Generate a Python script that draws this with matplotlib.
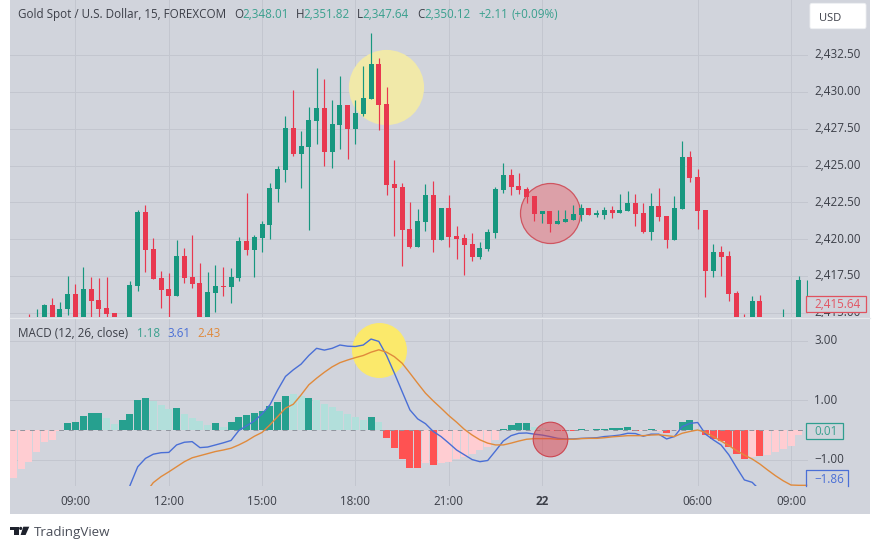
import matplotlib
matplotlib.use("Agg")
import matplotlib.pyplot as plt
from matplotlib.lines import Line2D
from matplotlib.patches import FancyBboxPatch, Polygon, Rectangle, Circle
from matplotlib.transforms import Affine2D, Bbox

plt.rcParams["font.family"] = ["Open Sans", "DejaVu Sans"]

# Candles, first bar sits six bars before the 09:00 tick
first_bar = -6
opens = [2414.6, 2414.2, 2414.3, 2415.54, 2414.4, 2415.3, 2416.29, 2414.5, 2416.63, 2415.88, 2415.34, 2415.0, 2414.3,
         2414.0, 2416.83, 2421.85, 2419.32, 2417.35, 2416.63, 2416.15, 2418.86, 2417.44, 2417.03, 2414.4, 2416.36,
         2416.83, 2416.76, 2417.37, 2419.88, 2419.27, 2420.08, 2420.97, 2423.41, 2424.7, 2427.54, 2425.78, 2426.25,
         2428.01, 2428.89, 2425.91, 2427.74, 2429.1, 2427.47, 2428.49, 2429.5, 2431.88, 2429.17, 2423.74, 2423.54,
         2420.69, 2419.47, 2421.17, 2423.0, 2419.95, 2422.11, 2420.22, 2420.08, 2419.67, 2418.79, 2419.33, 2420.42,
         2423.33, 2424.35, 2423.6, 2423.4, 2422.93, 2421.71, 2421.91, 2421.03, 2421.17, 2421.3, 2421.64, 2422.12,
         2421.64, 2421.64, 2421.98, 2421.78, 2421.92, 2422.46, 2421.78, 2420.49, 2422.25, 2421.58, 2419.95, 2422.05,
         2425.58, 2424.22, 2421.98, 2417.85, 2419.14, 2418.86, 2416.36, 2414.2, 2413.6, 2415.81, 2413.8, 2413.4,
         2413.6, 2414.0, 2413.9, 2417.24]
highs = [2414.9, 2415.3, 2415.6, 2416.04, 2415.77, 2417.51, 2416.97, 2418.14, 2417.46, 2417.35, 2417.46, 2415.0, 2414.5,
         2417.17, 2421.98, 2422.3, 2420.08, 2417.85, 2417.69, 2419.95, 2419.41, 2420.3, 2418.39, 2417.78, 2418.25,
         2418.12, 2418.05, 2420.15, 2423.11, 2420.29, 2421.24, 2423.81, 2424.97, 2428.36, 2430.12, 2427.33, 2428.96,
         2431.6, 2430.86, 2429.44, 2431.06, 2429.1, 2429.44, 2431.74, 2433.98, 2432.28, 2430.32, 2425.37, 2423.81,
         2422.52, 2422.05, 2423.74, 2423.94, 2422.11, 2423.0, 2420.9, 2420.35, 2420.42, 2419.81, 2420.69, 2423.54,
         2425.16, 2424.76, 2424.49, 2423.54, 2422.93, 2421.91, 2421.91, 2421.98, 2421.98, 2422.32, 2422.39, 2422.12,
         2421.98, 2422.19, 2422.25, 2423.07, 2423.27, 2423.07, 2422.46, 2423.14, 2423.47, 2421.58, 2422.93, 2426.66,
         2425.98, 2424.76, 2421.98, 2419.68, 2419.54, 2419.2, 2416.49, 2414.93, 2416.15, 2416.22, 2414.2, 2414.0,
         2415.27, 2414.4, 2417.51, 2417.24]
lows = [2413.8, 2413.9, 2413.9, 2414.0, 2414.0, 2414.89, 2414.2, 2414.2, 2414.7, 2414.7, 2414.7, 2414.0, 2413.5,
        2413.8, 2416.49, 2417.78, 2417.3, 2415.34, 2414.75, 2416.15, 2417.03, 2416.69, 2414.0, 2414.0, 2415.07,
        2416.15, 2415.68, 2417.17, 2418.93, 2417.44, 2419.14, 2420.02, 2422.52, 2423.88, 2425.64, 2423.47, 2420.62,
        2426.45, 2424.96, 2424.83, 2426.09, 2425.44, 2426.45, 2428.35, 2429.5, 2427.4, 2423.0, 2420.22, 2418.18,
        2419.4, 2419.47, 2420.55, 2419.13, 2419.95, 2419.47, 2418.66, 2417.57, 2418.52, 2418.66, 2419.2, 2420.08,
        2423.13, 2423.0, 2423.06, 2422.45, 2421.23, 2421.1, 2420.49, 2421.03, 2421.17, 2421.3, 2421.23, 2421.64,
        2421.51, 2421.37, 2421.44, 2421.78, 2421.92, 2420.9, 2420.42, 2419.95, 2421.24, 2419.41, 2419.95, 2422.05,
        2423.88, 2420.7, 2416.08, 2417.44, 2417.51, 2415.81, 2413.9, 2413.5, 2413.5, 2413.9, 2413.5, 2413.2,
        2413.5, 2413.8, 2413.7, 2415.5]
closes = [2414.2, 2414.6, 2415.54, 2414.4, 2415.3, 2416.29, 2414.5, 2416.63, 2415.81, 2415.27, 2414.93, 2414.3, 2413.8,
          2416.9, 2421.85, 2419.27, 2417.3, 2416.56, 2416.15, 2418.86, 2417.37, 2416.97, 2414.4, 2416.42, 2416.83,
          2416.78, 2417.44, 2419.88, 2419.27, 2420.15, 2421.03, 2423.47, 2424.76, 2427.54, 2425.78, 2426.32, 2428.08,
          2428.89, 2425.91, 2427.81, 2429.1, 2427.47, 2428.55, 2429.57, 2431.88, 2429.1, 2423.67, 2423.47, 2420.62,
          2419.47, 2421.23, 2423.0, 2419.95, 2422.11, 2420.15, 2420.01, 2419.61, 2418.79, 2419.4, 2420.49, 2423.4,
          2424.35, 2423.54, 2423.33, 2422.86, 2421.71, 2421.91, 2421.03, 2421.23, 2421.37, 2421.71, 2422.12, 2421.64,
          2421.76, 2421.98, 2421.78, 2421.98, 2422.46, 2421.71, 2420.49, 2422.25, 2421.51, 2419.95, 2422.12, 2425.58,
          2424.15, 2421.92, 2417.85, 2419.14, 2418.8, 2416.29, 2414.2, 2413.6, 2415.81, 2414.2, 2413.4, 2413.6,
          2414.0, 2413.9, 2417.24, 2417.24]

# MACD histogram, starts eight bars before 09:00, strong flag = darker shade
hist_first_bar = -8
hist_values = [-1.58, -1.28, -1.05, -0.74, -0.38, -0.33, -0.03, 0.25, 0.28, 0.47, 0.58, 0.58, 0.42, 0.2, 0.35, 0.55,
               1.02, 1.09, 0.98, 0.85, 0.72, 0.75, 0.55, 0.42, 0.3, 0.18, 0.25, 0.1, 0.28, 0.45, 0.52, 0.58, 0.65,
               0.82, 0.95, 1.15, 1.2, 1.13, 1.09, 1.02, 0.88, 0.78, 0.66, 0.56, 0.45, 0.33, 0.45, 0.28, -0.26, -0.6,
               -0.97, -1.27, -1.27, -1.1, -1.17, -1.1, -1.05, -0.97, -0.88, -0.8, -0.66, -0.55, -0.32, 0.05, 0.17,
               0.25, 0.25, 0.12, 0.08, -0.03, -0.04, -0.04, -0.03, 0.04, 0.01, 0.04, 0.04, 0.06, 0.06, 0.12, -0.01,
               -0.02, 0.03, -0.02, -0.09, -0.03, 0.28, 0.33, 0.05, -0.16, -0.29, -0.36, -0.55, -0.8, -0.97, -0.88,
               -0.87, -0.83, -0.72, -0.63, -0.52, -0.16]
hist_strong = [0, 0, 0, 0, 0, 0, 0, 1, 1, 1, 1, 1, 0, 0, 1, 1, 1, 1, 0, 0, 0, 1, 0, 0, 0, 0, 1, 0, 1, 1, 1, 1, 1, 1, 1,
               1, 0, 0, 1, 0, 0, 0, 0, 0, 0, 0, 1, 0, 1, 1, 1, 1, 1, 0, 1, 0, 0, 0, 0, 0, 0, 0, 0, 1, 1, 1, 1, 0, 0, 0,
               1, 1, 1, 1, 0, 1, 1, 1, 1, 1, 1, 0, 1, 0, 1, 0, 1, 1, 0, 1, 1, 1, 1, 1, 1, 0, 1, 0, 0, 0, 0, 0]

# MACD line from bar 6, signal line from bar 9
macd_first_bar = 6
macd_line = [-2.9, -1.85, -1.22, -0.94, -0.8, -0.75, -0.74, -0.49, -0.4, -0.38, -0.58, -0.56, -0.49, -0.42, -0.34,
             -0.01, 0.15, 0.31, 0.55, 0.85, 1.35, 1.8, 2.02, 2.21, 2.5, 2.74, 2.68, 2.74, 2.85, 2.81, 2.8, 2.85, 3.05,
             2.97, 2.5, 1.91, 1.29, 0.68, 0.38, 0.22, -0.04, -0.21, -0.43, -0.66, -0.82, -0.98, -1.05, -1.01, -0.69,
             -0.36, -0.18, -0.1, -0.09, -0.13, -0.16, -0.21, -0.27, -0.29, -0.29, -0.27, -0.26, -0.25, -0.21, -0.19,
             -0.16, -0.1, -0.11, -0.2, -0.13, -0.13, -0.29, -0.21, 0.12, 0.23, 0.26, -0.13, -0.32, -0.49, -0.82, -1.25,
             -1.66, -1.74, -2.0]
signal_first_bar = 9
signal_line = [-2.1, -1.75, -1.55, -1.39, -1.22, -1.05, -0.92, -0.85, -0.78, -0.71, -0.66, -0.6, -0.49, -0.36, -0.2,
               -0.07, 0.18, 0.46, 0.74, 0.87, 1.18, 1.52, 1.74, 1.94, 2.12, 2.26, 2.35, 2.43, 2.5, 2.61, 2.69, 2.61,
               2.46, 2.24, 1.91, 1.57, 1.24, 0.98, 0.74, 0.49, 0.27, 0.03, -0.16, -0.32, -0.43, -0.49, -0.49, -0.43,
               -0.36, -0.3, -0.28, -0.28, -0.28, -0.3, -0.3, -0.3, -0.28, -0.27, -0.27, -0.25, -0.22, -0.2, -0.18,
               -0.18, -0.18, -0.16, -0.15, -0.18, -0.21, -0.1, -0.04, 0.01, -0.07, -0.21, -0.36, -0.51, -0.68, -0.83,
               -0.96, -1.13, -1.33, -1.52, -1.69, -1.83, -1.84, -1.84]

price_ticks = [2432.5, 2430, 2427.5, 2425, 2422.5, 2420, 2417.5, 2415]
price_labels = ["2,432.50", "2,430.00", "2,427.50", "2,425.00", "2,422.50", "2,420.00", "2,417.50", "2,415.00"]
macd_ticks = [3, 1, -1]
macd_labels = ["3.00", "1.00", "−1.00"]
time_ticks = [0, 12, 24, 36, 48, 60, 80, 92]
time_labels = ["09:00", "12:00", "15:00", "18:00", "21:00", "22", "06:00", "09:00"]

BG = "#d1d4dc"
GRID = "#c3c6cf"
GREEN = "#17977f"
RED = "#e8384f"
TEXT = "#3c3f48"
TEXT_GREEN = "#3aa08e"
BLUE = "#4a6fd6"
ORANGE = "#e08a3c"

fig = plt.figure(figsize=(8.8, 5.49), dpi=100, facecolor="white")
# overlay coords are plain image pixels, y going down
px = Affine2D().scale(1 / 880, -1 / 549).translate(0, 1) + fig.transFigure

fig.add_artist(Rectangle((10, 0), 860, 514, transform=px, facecolor=BG, edgecolor="none", zorder=-1))

ax = fig.add_axes([10 / 880, 1 - 317 / 549, 798 / 880, 317 / 549], facecolor="none")
ax2 = fig.add_axes([10 / 880, 1 - 485.7 / 549, 798 / 880, 166.7 / 549], facecolor="none")

# price pane
ax.set_xlim(-8.42, 94.18)
ax.set_ylim(2414.73, 2436.22)
ax.scatter([39.96], [2430.34], s=2930, color="#f1e9a9", linewidths=0, zorder=1)
ax.scatter([61.05], [2421.76], s=1866, color="#dca0a8", edgecolors="#cf5560", linewidths=0.9, zorder=1)
for n in range(len(opens)):
    bar = first_bar + n
    col = GREEN if closes[n] >= opens[n] else RED
    ax.vlines(bar, lows[n], highs[n], color=col, linewidth=0.85, zorder=2)
    ax.bar(bar, abs(closes[n] - opens[n]), bottom=min(opens[n], closes[n]), width=0.64, color=col, linewidth=0, zorder=3)

ax.set_xticks(time_ticks)
ax.set_yticks(price_ticks)
ax.set_yticklabels(price_labels)
ax.yaxis.tick_right()
ax.tick_params(axis="x", length=0, labelbottom=False)
ax.tick_params(axis="y", length=0, pad=4.5, labelsize=8.4, labelcolor=TEXT)
ax.grid(True, color=GRID, linewidth=0.7)
ax.set_axisbelow(True)
# the 2,415.00 label is cut by the pane border
ax.get_yticklabels()[-1].set_clip_box(Bbox.from_extents(800, 549 - 317, 880, 549 - 290))
ax.get_yticklabels()[-1].set_clip_on(True)

# macd pane
ax2.set_xlim(-8.42, 94.18)
ax2.set_ylim(-1.853, 3.72)
for n, val in enumerate(hist_values):
    bar = hist_first_bar + n
    if val >= 0:
        col = "#26a08f" if hist_strong[n] else "#b2dfdb"
    else:
        col = "#ff5252" if hist_strong[n] else "#ffcdd2"
    ax2.bar(bar, val, width=0.9, color=col, linewidth=0, zorder=2)
ax2.axhline(0, color="#8f939d", linewidth=0.7, linestyle=(0, (5, 5)), zorder=3)
ax2.scatter([39.06], [2.68], s=1568, color="#fbe96b", linewidths=0, zorder=2.5)
ax2.plot(range(macd_first_bar, macd_first_bar + len(macd_line)), macd_line, color=BLUE, linewidth=1.0, zorder=4)
ax2.plot(range(signal_first_bar, signal_first_bar + len(signal_line)), signal_line, color=ORANGE, linewidth=1.0, zorder=4)
ax2.scatter([61.05], [-0.30], s=621, color=(0.86, 0.24, 0.28, 0.5), edgecolors="#cc4550", linewidths=0.8, zorder=5)

ax2.set_xticks(time_ticks)
ax2.set_xticklabels(time_labels)
ax2.set_yticks(macd_ticks)
ax2.set_yticklabels(macd_labels)
ax2.yaxis.tick_right()
ax2.tick_params(axis="x", length=0, pad=6.5, labelsize=8.4, labelcolor=TEXT)
ax2.tick_params(axis="y", length=0, pad=4.5, labelsize=8.4, labelcolor=TEXT)
ax2.get_xticklabels()[5].set_fontweight("bold")
ax2.grid(True, color=GRID, linewidth=0.7)
ax2.set_axisbelow(True)

# price scale text sits on a baseline a little under its gridline
for a in (ax, ax2):
    for spine in a.spines.values():
        spine.set_visible(False)
    for lbl in a.get_yticklabels():
        lbl.set_verticalalignment("baseline")
        lbl.set_transform(lbl.get_transform() + Affine2D().translate(0, -3.3))

# pane divider
fig.add_artist(Line2D([10, 870], [317.5, 317.5], transform=px, color="#e6e8ec", linewidth=0.9, zorder=5))


def label(x, y, s, color=TEXT, size=8.4, **kw):
    fig.text(x, y, s, transform=px, color=color, fontsize=size, va="baseline", ha="left", zorder=7, **kw)


# legend rows
label(18, 18, "Gold Spot / U.S. Dollar, 15, FOREXCOM")
label(233.8, 18, "O")
label(242, 18, "2,348.01", TEXT_GREEN)
label(295.5, 18, "H")
label(303.3, 18, "2,351.82", TEXT_GREEN)
label(357, 18, "L")
label(362.7, 18, "2,347.64", TEXT_GREEN)
label(416.8, 18, "C")
label(424, 18, "2,350.12", TEXT_GREEN)
label(478.7, 18, "+2.11", TEXT_GREEN)
label(512, 18, "(+0.09%)", TEXT_GREEN)

label(18, 337, "MACD (12, 26, close)")
label(137, 337, "1.18", TEXT_GREEN)
label(167, 337, "3.61", BLUE)
label(197, 337, "2.43", ORANGE)

# USD button
fig.add_artist(FancyBboxPatch((811.5, 4.8), 53, 22.4, boxstyle="round,pad=1.5,rounding_size=2", transform=px,
                              facecolor="white", edgecolor="#eef0f3", linewidth=0.6, zorder=6))
label(819, 20.7, "USD", size=8.0)

# last value tags
fig.add_artist(Rectangle((806, 295.5), 60, 16.5, transform=px, facecolor=BG, edgecolor="#e0525f", linewidth=0.9, zorder=6))
label(814, 307.5, "2,415.64", "#e25563")
fig.add_artist(Rectangle((806, 422.7), 36.7, 16, transform=px, facecolor=BG, edgecolor="#2f9e8f", linewidth=0.9, zorder=6))
label(814, 435, "0.01", TEXT_GREEN)
fig.add_artist(Line2D([806, 806, 848, 848], [485.5, 470, 470, 485.5], transform=px, color=BLUE, linewidth=0.9, zorder=6))
label(814, 483, "−1.86", BLUE)

# TradingView footer
logo = "#1e222d"
fig.add_artist(Polygon([(10, 526.7), (18.7, 526.7), (18.7, 535), (14, 535), (14, 530), (10, 530)], transform=px,
                       facecolor=logo, edgecolor="none", zorder=6))
fig.add_artist(Circle((20.7, 528.4), 1.6, transform=px, facecolor=logo, edgecolor="none", zorder=6))
fig.add_artist(Polygon([(23.3, 526.7), (29.3, 526.7), (25.6, 535), (20.6, 535)], transform=px,
                       facecolor=logo, edgecolor="none", zorder=6))
label(33.5, 536, "TradingView", "#4a4e59", size=9.6)

fig.savefig("out.png", dpi=100)
